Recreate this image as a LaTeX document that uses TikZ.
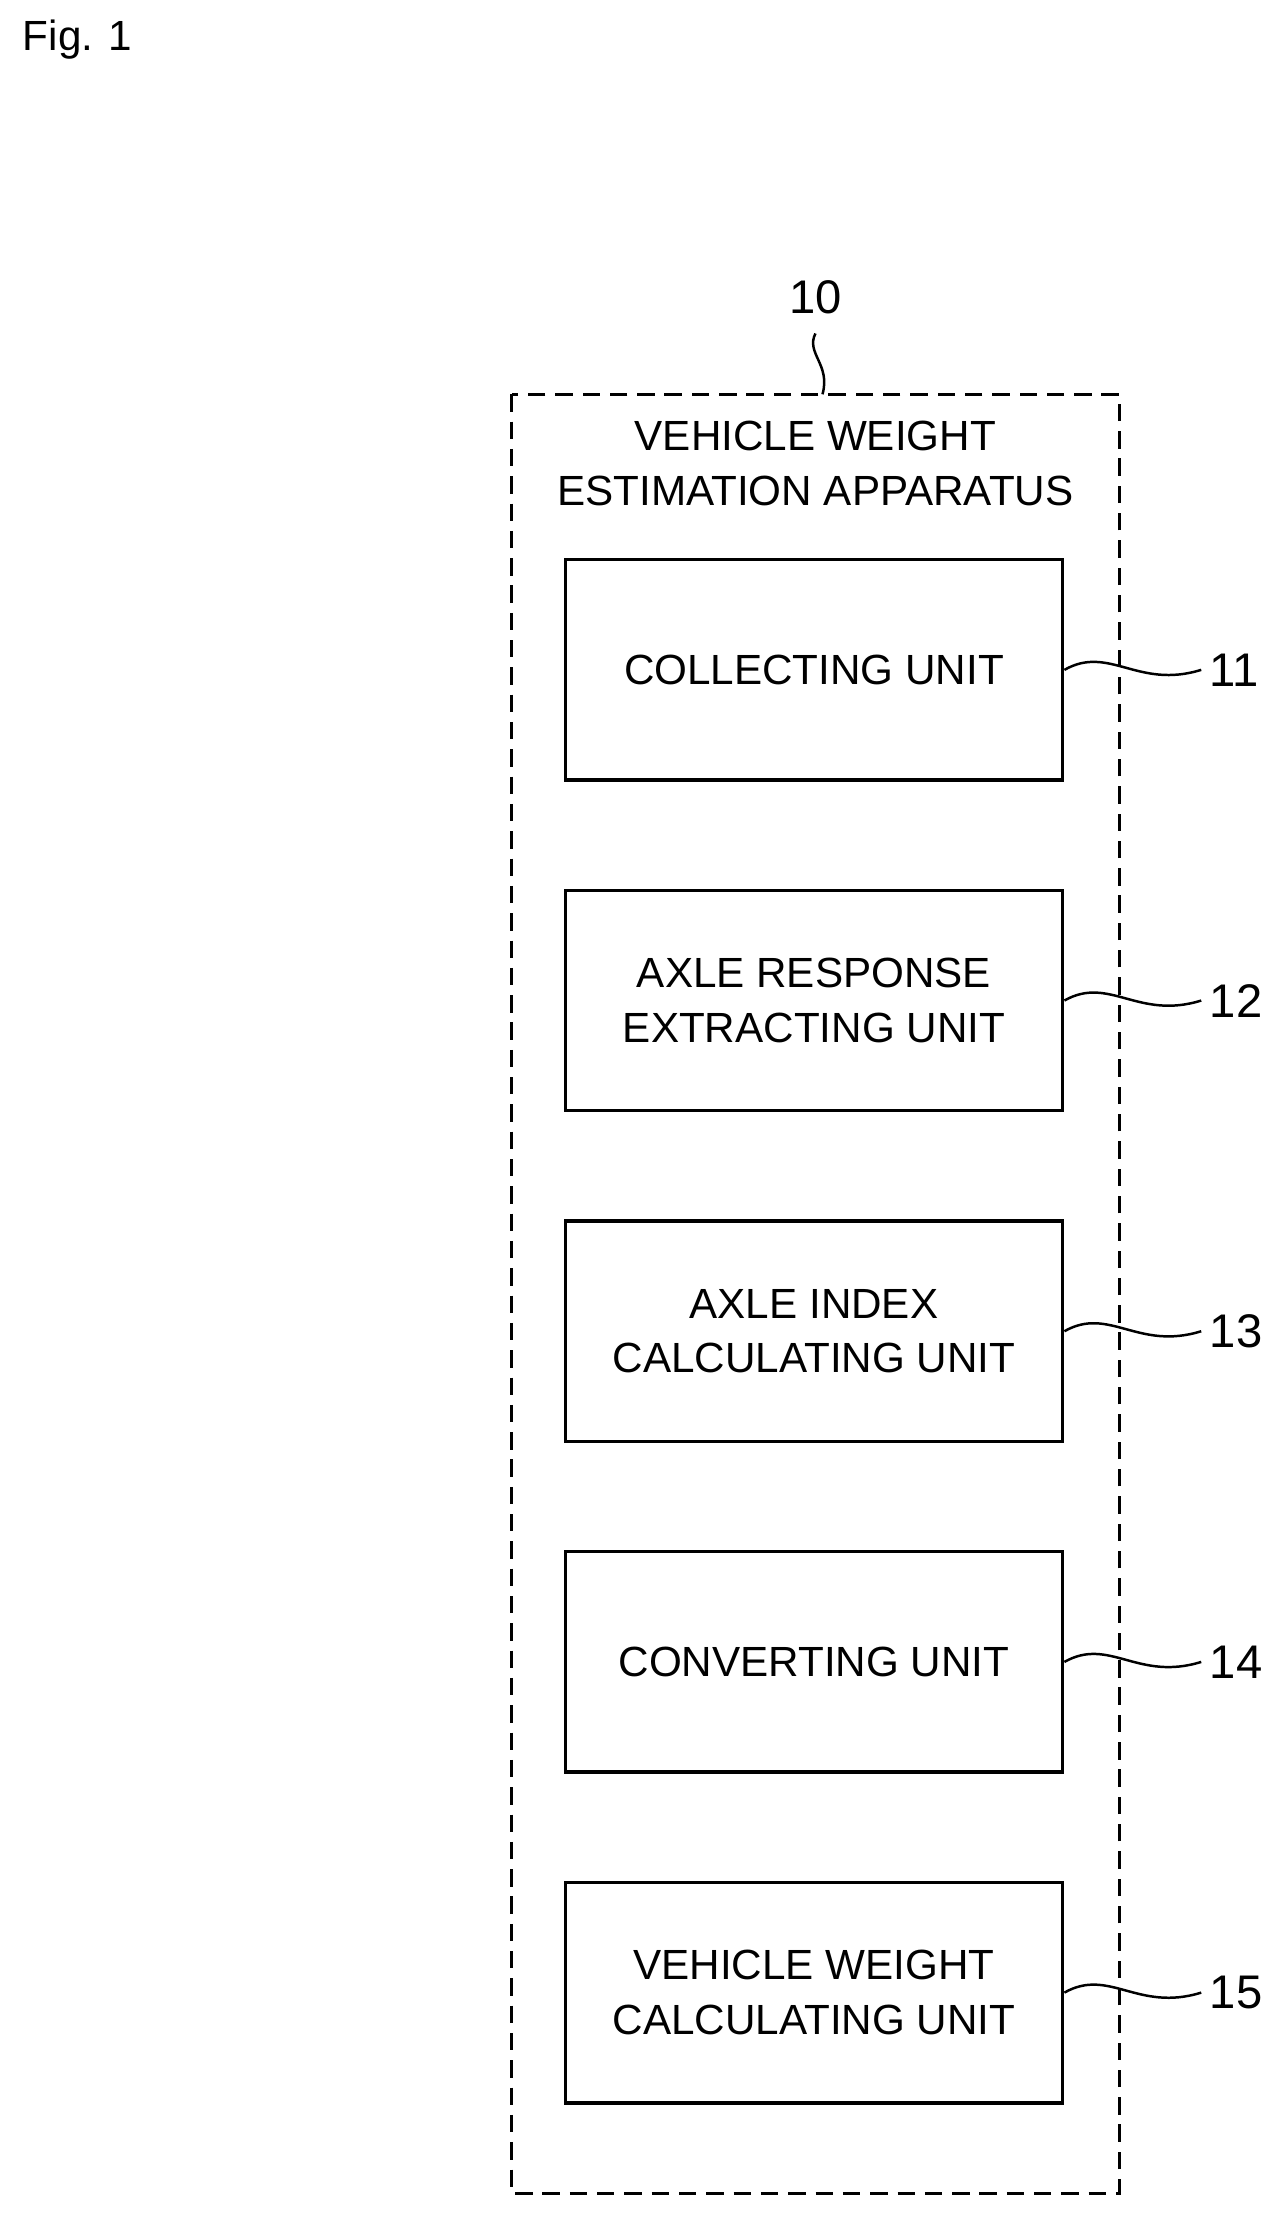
\documentclass[tikz,border=0pt]{standalone}
\usepackage{fontspec}
\setmainfont{Liberation Sans}
\usetikzlibrary{positioning}

\begin{document}
\begin{tikzpicture}[x=0.02cm,y=-0.02cm]
    \tikzset{unit/.style={draw,line width=1.4pt,minimum width=7.04cm,minimum height=3.12cm,align=center,font=\fontsize{17}{22}\selectfont},
             lbl/.style={font=\fontsize{19}{22}\selectfont},
             lead/.style={line width=1pt}}
    \useasboundingbox (0,0) rectangle (905,1578);

    \node[font=\fontsize{17}{20}\selectfont] (fig) at (55,28) {Fig. 1};

    \draw[line width=1.4pt,dash pattern=on 7pt off 4pt] (362,279) rectangle (792,1552);
    \node[lbl] (l10) at (577,210) {10};
    \coordinate (top) at (582,279);
    \draw[lead] (577,236) .. controls (570,250) and (588,258) .. (top);
    \node[align=center,font=\fontsize{17}{22}\selectfont] (title) at (577,328) {VEHICLE WEIGHT\\ESTIMATION APPARATUS};

    \node[unit] (u11) at (576,474) {COLLECTING UNIT};
    \node[unit] (u12) at (576,708) {AXLE RESPONSE\\EXTRACTING UNIT};
    \node[unit] (u13) at (576,942) {AXLE INDEX\\CALCULATING UNIT};
    \node[unit] (u14) at (576,1176) {CONVERTING UNIT};
    \node[unit] (u15) at (576,1410) {VEHICLE WEIGHT\\CALCULATING UNIT};

    \foreach \n/\y in {11/474,12/708,13/942,14/1176,15/1410} {
        \node[lbl,anchor=west] (n\n) at (850,\y) {\n};
        \draw[lead] (u\n.east) .. controls (785,\y-18) and (805,\y+14) .. (n\n.west);
    }
\end{tikzpicture}
\end{document}
